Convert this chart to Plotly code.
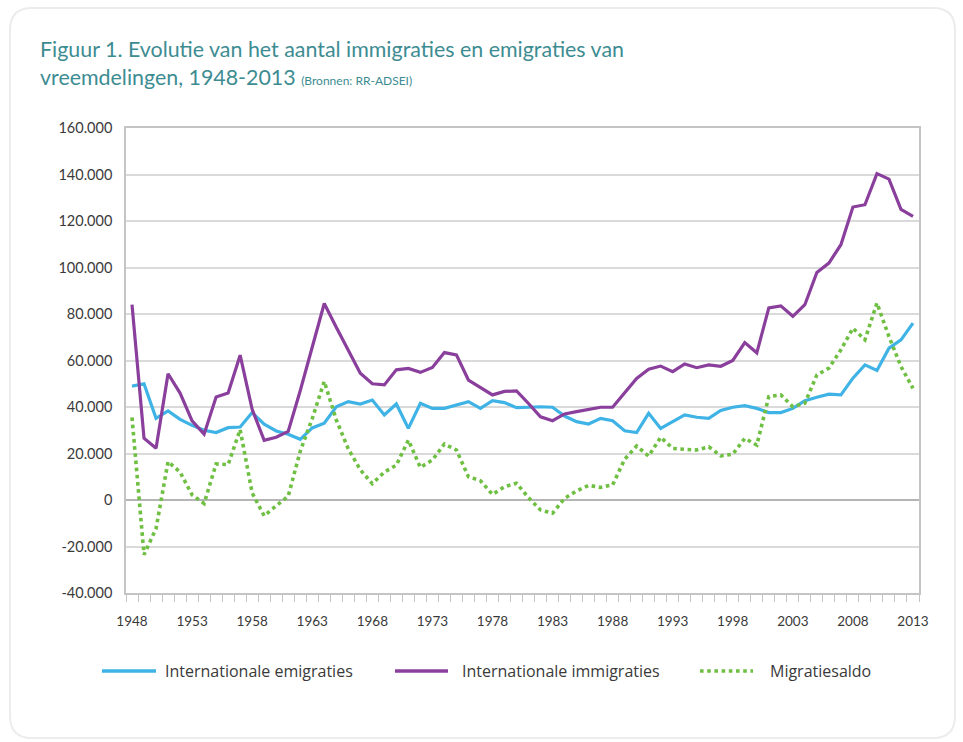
import plotly.graph_objects as go

years = list(range(1948, 2014))

emigraties = [49.0, 50.0, 35.1, 38.3, 34.7, 32.1, 30.0, 29.0, 31.1, 31.4,
              37.6, 32.6, 29.7, 28.3, 26.1, 31.0, 33.0, 40.1, 42.3, 41.3,
              43.0, 36.6, 41.3, 30.8, 41.6, 39.4, 39.4, 40.9, 42.3, 39.4,
              42.7, 41.9, 39.7, 39.9, 40.1, 39.9, 36.1, 33.7, 32.7, 35.1,
              34.1, 29.8, 29.0, 37.3, 30.8, 33.7, 36.6, 35.6, 35.1, 38.5,
              39.9, 40.6, 39.4, 37.6, 37.6, 39.4, 42.7, 44.2, 45.5, 45.2,
              52.4, 58.1, 55.7, 65.3, 68.9, 76.1]

immigraties = [84.0, 26.6, 22.3, 54.3, 46.0, 34.0, 28.3, 44.3, 46.0, 62.3,
               39.0, 25.7, 27.0, 29.5, 47.0, 66.0, 84.5, 74.3, 64.3, 54.5,
               50.0, 49.5, 56.0, 56.6, 54.9, 57.0, 63.4, 62.4, 51.6, 48.5,
               45.2, 46.7, 46.9, 41.5, 35.8, 34.1, 37.0, 38.0, 39.1, 39.9,
               39.9, 46.2, 52.3, 56.2, 57.6, 55.2, 58.5, 56.9, 58.1, 57.5,
               60.0, 67.7, 63.3, 82.6, 83.5, 79.0, 84.0, 97.9, 101.9, 109.8,
               126.0, 127.0, 140.4, 138.0, 125.0, 122.0]

migratiesaldo = [35.5, -23.5, -12.3, 16.5, 12.0, 2.2, -1.5, 15.5, 15.2, 30.3,
                 3.0, -6.8, -2.5, 1.6, 21.0, 35.0, 51.0, 34.5, 22.0, 13.0,
                 7.0, 12.0, 15.0, 25.8, 14.0, 17.2, 24.1, 21.5, 10.0, 8.3,
                 2.4, 5.7, 7.2, 1.0, -4.3, -5.7, 0.7, 3.9, 6.3, 5.4,
                 6.5, 17.5, 23.2, 18.9, 27.0, 22.2, 21.8, 21.5, 22.9, 19.0,
                 19.7, 26.5, 23.6, 44.5, 45.2, 40.1, 41.6, 53.8, 56.7, 64.6,
                 73.9, 68.9, 84.7, 70.3, 57.4, 48.0]

x_tick_years = list(range(1948, 2014, 5))
x_tick_labels = [str(y) for y in x_tick_years]
y_tick_values = list(range(-40000, 160001, 20000))
y_tick_labels = ["-40.000", "-20.000", "0", "20.000", "40.000", "60.000",
                 "80.000", "100.000", "120.000", "140.000", "160.000"]

series_names = ["Internationale emigraties", "Internationale immigraties", "Migratiesaldo"]
series_colors = ["#3fb3e5", "#8a3f9c", "#6fbf43"]
series_dash = ["solid", "solid", "dot"]

W, H = 963, 742
L, R, T, B = 126, 44, 128, 149
PW, PH = W - L - R, H - T - B


def px(xp):
    return (xp - L) / PW


def py(yp):
    return (H - B - yp) / PH


def rounded_rect(x0, y0, x1, y1, r):
    rx, ry = r / PW, r / PH
    X0, X1 = px(x0), px(x1)
    Y0, Y1 = py(y0), py(y1)
    return (f"M {X0+rx},{Y0} L {X1-rx},{Y0} Q {X1},{Y0} {X1},{Y0-ry} "
            f"L {X1},{Y1+ry} Q {X1},{Y1} {X1-rx},{Y1} "
            f"L {X0+rx},{Y1} Q {X0},{Y1} {X0},{Y1+ry} "
            f"L {X0},{Y0-ry} Q {X0},{Y0} {X0+rx},{Y0} Z")


fig = go.Figure()
values = [emigraties, immigraties, migratiesaldo]
for name, vals, col, dash in zip(series_names, values, series_colors, series_dash):
    fig.add_trace(go.Scatter(
        x=years, y=[v * 1000 for v in vals], mode="lines", name=name,
        showlegend=False,
        line=dict(color=col, width=3.6 if dash == "dot" else 3.2, dash=dash),
    ))

# custom legend (line samples + labels) positioned in pixel terms
legend_line_x = [(102, 156), (395, 448), (700, 753)]
legend_text_x = [163, 460, 768]
legend_y = 671
shapes = [dict(type="path", xref="paper", yref="paper", layer="below",
               path=rounded_rect(10, 8, 955, 738, 22),
               line=dict(color="#ececec", width=2), fillcolor="rgba(0,0,0,0)")]
annotations = []
for (x0, x1), tx, name, col, dash in zip(legend_line_x, legend_text_x,
                                         series_names, series_colors, series_dash):
    shapes.append(dict(type="line", xref="paper", yref="paper",
                       x0=px(x0), x1=px(x1), y0=py(legend_y), y1=py(legend_y),
                       line=dict(color=col, width=3.6 if dash == "dot" else 3.4,
                                 dash=dash)))
    annotations.append(dict(text=name, xref="paper", yref="paper",
                            x=px(tx), y=py(legend_y), xanchor="left", yanchor="middle",
                            showarrow=False,
                            font=dict(family="Open Sans, sans-serif", size=16,
                                      color="#3a3a3a")))

fig.update_layout(
    width=W, height=H,
    margin=dict(l=L, r=R, t=T, b=B, pad=0),
    paper_bgcolor="white", plot_bgcolor="white",
    font=dict(family="Lato, sans-serif", color="#3a3a3a", size=14),
    title=dict(
        text=("Figuur 1. Evolutie van het aantal immigraties en emigraties van<br>"
              "vreemdelingen, 1948-2013 <span style='font-size:12px'>(Bronnen: RR-ADSEI)</span>"),
        x=40 / W, xanchor="left", xref="container",
        y=1 - 57 / H, yanchor="top", yref="container",
        font=dict(family="Lato, sans-serif", size=21.4, color="#3d8c92"),
    ),
    showlegend=False,
    xaxis=dict(
        range=[1947.5, 2013.5], tickmode="array", tickvals=x_tick_years,
        ticktext=x_tick_labels, ticks="outside", ticklen=7,
        tickcolor="rgba(0,0,0,0)", showgrid=False, zeroline=False,
        showline=True, linecolor="#c4c4c4", linewidth=1.5, mirror=True,
        tickfont=dict(size=13.5, color="#3a3a3a"), ticklabelstandoff=8,
        minor=dict(tickmode="linear", tick0=1947.5, dtick=1, ticks="outside",
                   ticklen=7, tickcolor="#c4c4c4", tickwidth=1, showgrid=False),
    ),
    yaxis=dict(
        range=[-40000, 160000], tickmode="array", tickvals=y_tick_values,
        ticktext=y_tick_labels, showgrid=True, gridcolor="#dadada", gridwidth=1.6,
        zeroline=True, zerolinecolor="#b5b5b5", zerolinewidth=1.8,
        showline=True, linecolor="#c4c4c4", linewidth=1.5, mirror=True,
        ticks="", tickfont=dict(size=14.5, color="#3a3a3a"), ticklabelstandoff=9,
    ),
    shapes=shapes,
    annotations=annotations,
)

fig.write_html("out.html", config={"displayModeBar": False},
               post_script="document.body.style.margin='0px';")
